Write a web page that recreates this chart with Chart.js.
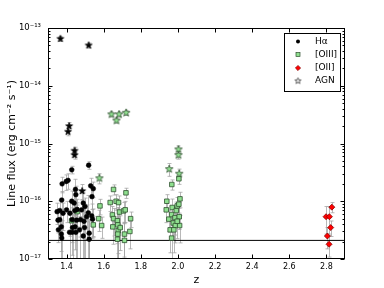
<!DOCTYPE html>
<html>
<head>
<meta charset="utf-8">
<script src="https://cdn.jsdelivr.net/npm/chart.js@4"></script>
<style>
html, body { margin: 0; padding: 0; background: #fff; }
</style>
</head>
<body>
<canvas id="fluxChart" width="384" height="288"></canvas>
<script>
// Halpha emitters
const haZ = [1.519, 1.428, 1.408, 1.398, 1.376, 1.530, 1.544, 1.448, 1.537, 1.374,
    1.450, 1.428, 1.441, 1.490, 1.349, 1.363, 1.381, 1.400, 1.418, 1.445,
    1.457, 1.481, 1.499, 1.363, 1.354, 1.372, 1.356, 1.430, 1.454, 1.475,
    1.494, 1.508, 1.517, 1.535, 1.540, 1.432, 1.446, 1.372, 1.374, 1.416,
    1.430, 1.450, 1.490, 1.522, 1.522, 1.470, 1.497];
const haFlux = [4.2e-16, 3.5e-16, 2.3e-16, 2.2e-16, 2.0e-16, 1.85e-16, 1.65e-16, 1.6e-16, 1.2e-16, 1.05e-16,
    1.3e-16, 1.0e-16, 9.3e-17, 9.3e-17, 6.6e-17, 6.9e-17, 6.2e-17, 7.1e-17, 6.2e-17, 6.9e-17,
    7.2e-17, 7.1e-17, 8.1e-17, 4.8e-17, 4.7e-17, 3.6e-17, 3.2e-17, 4.8e-17, 4.7e-17, 4.8e-17,
    4.5e-17, 5.4e-17, 6.3e-17, 5.6e-17, 4.9e-17, 3.5e-17, 3.6e-17, 2.7e-17, 2.3e-17, 2.9e-17,
    2.9e-17, 2.9e-17, 2.5e-17, 2.8e-17, 2.2e-17, 3.2e-17, 3.5e-17];
const haErr = [0.15, 0.15, 0.3, 0.3, 0.3, 0.35, 0.3, 0.5, 0.4, 0.4,
    0.4, 0.5, 0.6, 0.5, 0.4, 0.5, 0.5, 0.4, 0.6, 0.5,
    0.5, 0.5, 0.4, 0.5, 0.4, 1, 0.4, 0.6, 1, 0.5,
    1, 0.6, 1, 0.6, 0.5, 1, 0.6, 0.5, 1, 1,
    0.6, 1, 1, 0.7, 1, 0.7, 0.8];

// Halpha AGN
const haAgnZ = [1.367, 1.519, 1.414, 1.408, 1.443, 1.443, 1.484];
const haAgnFlux = [6.5e-14, 5.0e-14, 2.0e-15, 1.6e-15, 7.5e-16, 6.3e-16, 1.5e-16];
const haAgnErr = [0.1, 0.1, 0.15, 0.15, 0.15, 0.15, 0.3];

// [OIII] emitters
const o3Z = [1.457, 1.427, 1.544, 1.580, 1.573, 1.589, 1.653, 1.635, 1.647, 1.653,
    1.649, 1.667, 1.680, 1.674, 1.676, 1.678, 1.676, 1.674, 1.685, 1.707,
    1.716, 1.720, 1.712, 1.712, 1.741, 1.745, 1.689,
    1.967, 2.005, 1.940, 1.937, 1.951, 1.969, 1.966, 1.958, 1.966, 1.975,
    1.984, 1.991, 1.996, 2.011, 2.005, 2.007, 1.986, 2.009, 1.978, 1.996];
const o3Flux = [6.6e-17, 4.6e-17, 3.9e-17, 8.3e-17, 5.0e-17, 3.8e-17, 1.6e-16, 9.5e-17, 5.8e-17, 5.0e-17,
    3.6e-17, 1.0e-16, 9.5e-17, 4.6e-17, 3.9e-17, 3.1e-17, 2.7e-17, 2.2e-17, 6.5e-17, 6.8e-17,
    7.1e-17, 1.4e-16, 2.7e-17, 2.1e-17, 3.0e-17, 5.0e-17, 3.5e-17,
    1.95e-16, 2.45e-16, 1.0e-16, 7.1e-17, 4.9e-17, 7.8e-17, 5.9e-17, 3.2e-17, 2.3e-17, 4.2e-17,
    5.2e-17, 6.9e-17, 8.3e-17, 1.1e-16, 8.9e-17, 5.4e-17, 3.8e-17, 3.8e-17, 3.2e-17, 4.5e-17];
const o3Err = [0.3, 0.4, 0.4, 0.3, 0.4, 0.4, 0.2, 0.3, 0.4, 0.5,
    0.5, 0.3, 0.3, 0.6, 1, 0.6, 1, 1, 0.4, 0.4,
    0.4, 0.2, 0.6, 1, 0.5, 0.3, 0.6,
    0.2, 0.2, 0.3, 0.4, 0.4, 0.4, 0.4, 0.6, 1, 0.5,
    0.5, 0.4, 0.4, 0.3, 0.3, 0.4, 0.5, 0.5, 0.6, 0.5];

// [OIII] AGN
const o3AgnZ = [1.642, 1.669, 1.683, 1.721, 1.577, 1.953, 2.003, 2.003, 2.007];
const o3AgnFlux = [3.2e-15, 2.5e-15, 3.2e-15, 3.4e-15, 2.5e-16, 3.6e-16, 7.9e-16, 6.3e-16, 3.0e-16];
const o3AgnErr = [0.1, 0.1, 0.1, 0.1, 0.2, 0.25, 0.15, 0.15, 0.2];

// [OII] emitters
const o2Z = [2.829, 2.798, 2.816, 2.823, 2.805, 2.814];
const o2Flux = [7.9e-17, 5.4e-17, 5.4e-17, 3.5e-17, 2.5e-17, 1.8e-17];
const o2Err = [0.2, 0.5, 0.5, 0.3, 0.4, 0.4];

const limitFlux = 2.1e-17;
const xTicks = [1.4, 1.6, 1.8, 2.0, 2.2, 2.4, 2.6, 2.8];
const yTicks = [1e-17, 1e-16, 1e-15, 1e-14, 1e-13];
const yTickLabels = ['10⁻¹⁷', '10⁻¹⁶', '10⁻¹⁵', '10⁻¹⁴', '10⁻¹³'];
const legendLabels = ['Hα', '[OIII]', '[OII]', 'AGN'];

const FONT = 'DejaVu Sans';

function toPoints(zs, fs) {
    return zs.map((z, i) => ({ x: z, y: fs[i] }));
}

// five-point star marker
function makeStar(fill, edge, r) {
    const c = document.createElement('canvas');
    const s = Math.ceil(2 * r + 2);
    c.width = s;
    c.height = s;
    const g = c.getContext('2d');
    g.beginPath();
    for (let k = 0; k < 10; k++) {
        const rad = k % 2 ? r * 0.42 : r;
        const a = -Math.PI / 2 + k * Math.PI / 5;
        g.lineTo(s / 2 + rad * Math.cos(a), s / 2 + rad * Math.sin(a));
    }
    g.closePath();
    g.fillStyle = fill;
    g.fill();
    g.lineWidth = 0.8;
    g.strokeStyle = edge;
    g.stroke();
    return c;
}

const starBlack = makeStar('#000', '#000', 3.6);
const starGreen = makeStar('#8fe08f', '#2f4f2f', 4);
const starWhite = makeStar('#fff', '#333', 3.2);

const errSeries = [
    { z: haZ, f: haFlux, e: haErr },
    { z: haAgnZ, f: haAgnFlux, e: haAgnErr },
    { z: o3Z, f: o3Flux, e: o3Err },
    { z: o3AgnZ, f: o3AgnFlux, e: o3AgnErr },
    { z: o2Z, f: o2Flux, e: o2Err }
];

// grey error bars behind the markers
const errorBars = {
    id: 'errorBars',
    beforeDatasetsDraw(chart) {
        const { ctx, chartArea, scales: { x, y } } = chart;
        ctx.save();
        ctx.beginPath();
        ctx.rect(chartArea.left, chartArea.top, chartArea.width, chartArea.height);
        ctx.clip();
        ctx.strokeStyle = 'rgba(160,160,160,0.75)';
        ctx.lineWidth = 1;
        errSeries.forEach(s => {
            s.z.forEach((z, i) => {
                const v = s.f[i];
                const px = Math.round(x.getPixelForValue(z)) + 0.5;
                const hi = y.getPixelForValue(v * (1 + s.e[i]));
                const lo = s.e[i] >= 1 ? chartArea.bottom + 2 : y.getPixelForValue(v * (1 - s.e[i]));
                ctx.beginPath();
                ctx.moveTo(px, lo);
                ctx.lineTo(px, hi);
                ctx.moveTo(px - 2, hi);
                ctx.lineTo(px + 2, hi);
                if (s.e[i] < 1) {
                    ctx.moveTo(px - 2, lo);
                    ctx.lineTo(px + 2, lo);
                }
                ctx.stroke();
            });
        });
        ctx.restore();
    }
};

// frame and inward ticks, matplotlib style
const frameTicks = {
    id: 'frameTicks',
    afterDraw(chart) {
        const { ctx, chartArea: a, scales: { x, y } } = chart;
        ctx.save();
        ctx.strokeStyle = '#000';
        ctx.lineWidth = 1;
        const l = a.left + 0.5, r = a.right - 0.5, t = a.top + 0.5, b = a.bottom - 0.5;
        ctx.strokeRect(l, t, r - l, b - t);
        ctx.beginPath();
        xTicks.forEach(v => {
            const px = Math.round(x.getPixelForValue(v)) + 0.5;
            ctx.moveTo(px, b); ctx.lineTo(px, b - 4);
            ctx.moveTo(px, t); ctx.lineTo(px, t + 4);
        });
        yTicks.forEach(v => {
            const py = Math.round(y.getPixelForValue(v)) + 0.5;
            ctx.moveTo(l, py); ctx.lineTo(l + 4, py);
            ctx.moveTo(r, py); ctx.lineTo(r - 4, py);
        });
        for (let d = -17; d < -13; d++) {
            for (let m = 2; m <= 9; m++) {
                const py = Math.round(y.getPixelForValue(m * Math.pow(10, d))) + 0.5;
                ctx.moveTo(l, py); ctx.lineTo(l + 2, py);
                ctx.moveTo(r, py); ctx.lineTo(r - 2, py);
            }
        }
        ctx.stroke();
        ctx.restore();
    }
};

// boxed legend in the upper right corner
const boxLegend = {
    id: 'boxLegend',
    afterDraw(chart) {
        const ctx = chart.ctx;
        const bx = 284, by = 33, bw = 56, bh = 58;
        const rowY = [41.5, 54.5, 68, 81];
        const mx = 298;
        ctx.save();
        ctx.fillStyle = '#fff';
        ctx.fillRect(bx, by, bw, bh);
        ctx.strokeStyle = '#000';
        ctx.lineWidth = 1;
        ctx.strokeRect(bx + 0.5, by + 0.5, bw, bh);

        // circle
        ctx.beginPath();
        ctx.arc(mx, rowY[0], 2, 0, Math.PI * 2);
        ctx.fillStyle = '#000';
        ctx.fill();
        // square
        ctx.fillStyle = '#8fe08f';
        ctx.strokeStyle = '#2f4f2f';
        ctx.lineWidth = 0.7;
        ctx.fillRect(mx - 2, rowY[1] - 2, 4, 4);
        ctx.strokeRect(mx - 2, rowY[1] - 2, 4, 4);
        // diamond
        ctx.beginPath();
        ctx.moveTo(mx, rowY[2] - 2.6);
        ctx.lineTo(mx + 2.6, rowY[2]);
        ctx.lineTo(mx, rowY[2] + 2.6);
        ctx.lineTo(mx - 2.6, rowY[2]);
        ctx.closePath();
        ctx.fillStyle = '#ff0000';
        ctx.fill();
        ctx.strokeStyle = '#8b0000';
        ctx.stroke();
        // star
        ctx.drawImage(starWhite, mx - starWhite.width / 2, rowY[3] - starWhite.height / 2);

        ctx.fillStyle = '#000';
        ctx.font = '9px "' + FONT + '"';
        ctx.textBaseline = 'middle';
        ctx.textAlign = 'left';
        legendLabels.forEach((txt, i) => ctx.fillText(txt, 315, rowY[i]));
        ctx.restore();
    }
};

const chart = new Chart(document.getElementById('fluxChart').getContext('2d'), {
    type: 'scatter',
    data: {
        datasets: [
            {
                label: 'Hα AGN',
                data: toPoints(haAgnZ, haAgnFlux),
                pointStyle: starBlack
            },
            {
                label: '[OIII] AGN',
                data: toPoints(o3AgnZ, o3AgnFlux),
                pointStyle: starGreen
            },
            {
                label: 'Hα',
                data: toPoints(haZ, haFlux),
                pointStyle: 'circle',
                pointRadius: 2.4,
                backgroundColor: '#000',
                borderColor: '#000',
                borderWidth: 0.5
            },
            {
                label: '[OIII]',
                data: toPoints(o3Z, o3Flux),
                pointStyle: 'rect',
                pointRadius: 3.2,
                backgroundColor: '#8fe08f',
                borderColor: '#2f4f2f',
                borderWidth: 0.8
            },
            {
                label: '[OII]',
                data: toPoints(o2Z, o2Flux),
                pointStyle: 'rectRot',
                pointRadius: 3,
                backgroundColor: '#ff0000',
                borderColor: '#8b0000',
                borderWidth: 0.8
            },
            {
                type: 'line',
                label: 'limit',
                data: [{ x: 1.3, y: limitFlux }, { x: 2.9, y: limitFlux }],
                borderColor: '#000',
                borderWidth: 1,
                pointRadius: 0,
                fill: false
            }
        ]
    },
    options: {
        responsive: false,
        animation: false,
        events: [],
        layout: { padding: { left: 0, right: 39, top: 28, bottom: 0 } },
        plugins: {
            legend: { display: false },
            tooltip: { enabled: false }
        },
        scales: {
            x: {
                type: 'linear',
                min: 1.3,
                max: 2.9,
                grid: { display: false, drawTicks: false },
                border: { display: false },
                afterBuildTicks: s => { s.ticks = xTicks.map(v => ({ value: v })); },
                afterFit: s => { s.height = 29; },
                ticks: {
                    color: '#000',
                    padding: 3,
                    maxRotation: 0,
                    autoSkip: false,
                    font: { family: FONT, size: 8 },
                    callback: v => v.toFixed(1)
                },
                title: {
                    display: true,
                    text: 'z',
                    color: '#000',
                    font: { family: FONT, size: 11 },
                    padding: { top: 0, bottom: 1.5 }
                }
            },
            y: {
                type: 'logarithmic',
                min: 1e-17,
                max: 1e-13,
                grid: { display: false, drawTicks: false },
                border: { display: false },
                afterBuildTicks: s => { s.ticks = yTicks.map(v => ({ value: v })); },
                afterFit: s => { s.width = 48; },
                ticks: {
                    color: '#000',
                    padding: 7,
                    autoSkip: false,
                    font: { family: FONT, size: 8.5 },
                    callback: (v, i) => yTickLabels[i]
                },
                title: {
                    display: true,
                    text: 'Line flux (erg cm⁻² s⁻¹)',
                    color: '#000',
                    font: { family: FONT, size: 11 },
                    padding: { top: 5.5, bottom: 0 }
                }
            }
        }
    },
    plugins: [errorBars, frameTicks, boxLegend]
});
</script>
</body>
</html>
